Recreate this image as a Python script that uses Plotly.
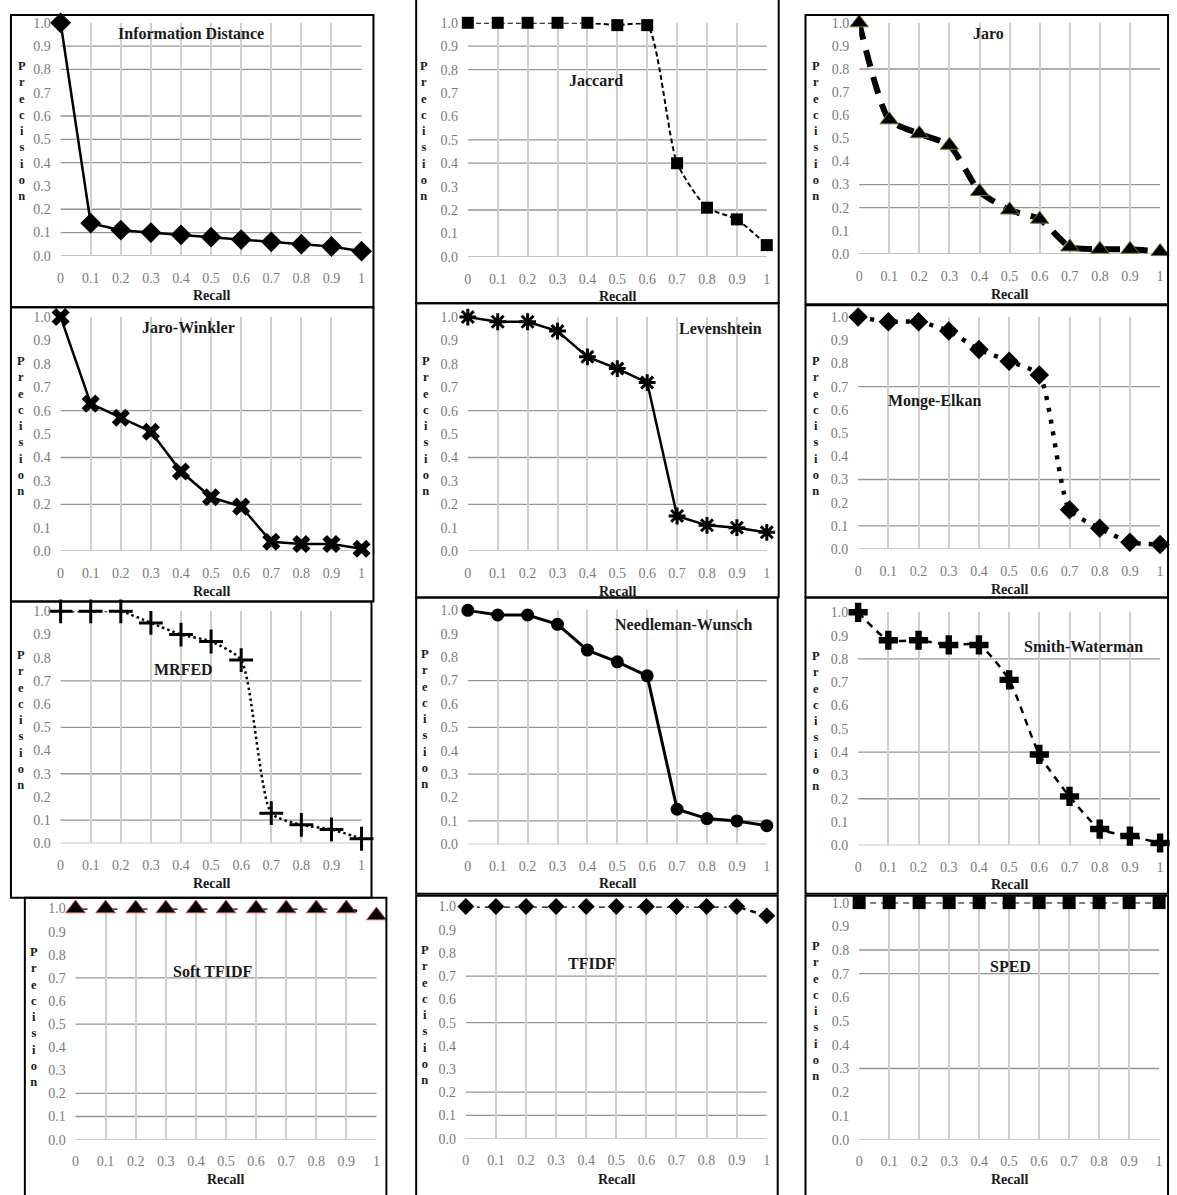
import plotly.graph_objects as go

W, H = 1177, 1195

# Recall levels shared by every panel
recall = [0, 0.1, 0.2, 0.3, 0.4, 0.5, 0.6, 0.7, 0.8, 0.9, 1.0]
x_tick_labels = ["0", "0.1", "0.2", "0.3", "0.4", "0.5", "0.6", "0.7", "0.8", "0.9", "1"]
y_tick_vals = [0.0, 0.1, 0.2, 0.3, 0.4, 0.5, 0.6, 0.7, 0.8, 0.9, 1.0]
y_tick_labels = ["0.0", "0.1", "0.2", "0.3", "0.4", "0.5", "0.6", "0.7", "0.8", "0.9", "1.0"]

# Interpolated precision per similarity measure
information_distance = [1.0, 0.14, 0.11, 0.10, 0.09, 0.08, 0.07, 0.06, 0.05, 0.04, 0.02]
jaccard = [1.0, 1.0, 1.0, 1.0, 1.0, 0.99, 0.99, 0.40, 0.21, 0.16, 0.05]
jaro = [1.0, 0.58, 0.52, 0.47, 0.27, 0.19, 0.15, 0.03, 0.02, 0.02, 0.01]
jaro_winkler = [1.0, 0.63, 0.57, 0.51, 0.34, 0.23, 0.19, 0.04, 0.03, 0.03, 0.01]
levenshtein = [1.0, 0.98, 0.98, 0.94, 0.83, 0.78, 0.72, 0.15, 0.11, 0.10, 0.08]
monge_elkan = [1.0, 0.98, 0.98, 0.94, 0.86, 0.81, 0.75, 0.17, 0.09, 0.03, 0.02]
mrfed = [1.0, 1.0, 1.0, 0.95, 0.90, 0.87, 0.79, 0.13, 0.08, 0.06, 0.02]
needleman_wunsch = [1.0, 0.98, 0.98, 0.94, 0.83, 0.78, 0.72, 0.15, 0.11, 0.10, 0.08]
smith_waterman = [1.0, 0.88, 0.88, 0.86, 0.86, 0.71, 0.39, 0.21, 0.07, 0.04, 0.01]
soft_tfidf = [1.0, 1.0, 1.0, 1.0, 1.0, 1.0, 1.0, 1.0, 1.0, 1.0, 0.97]
tfidf = [1.0, 1.0, 1.0, 1.0, 1.0, 1.0, 1.0, 1.0, 1.0, 1.0, 0.96]
sped = [1.0, 1.0, 1.0, 1.0, 1.0, 1.0, 1.0, 1.0, 1.0, 1.0, 1.0]

titles = ["Information Distance", "Jaccard", "Jaro", "Jaro-Winkler", "Levenshtein",
          "Monge-Elkan", "MRFED", "Needleman-Wunsch", "Smith-Waterman",
          "Soft TFIDF", "TFIDF", "SPED"]
series = [information_distance, jaccard, jaro, jaro_winkler, levenshtein, monge_elkan,
          mrfed, needleman_wunsch, smith_waterman, soft_tfidf, tfidf, sped]

# Panel geometry in pixels: plot box (x0, x1, ytop, ybottom), frame box, title centre,
# "Recall" baseline y, x of the vertical "Precision" letters
panels = [
    dict(plot=(57, 360, 16, 252), frame=(7, 372, 8, 304), title=(188, 27), recall_y=292, ylab_x=18),
    dict(plot=(467, 768, 16, 253), frame=(415, 780, -8, 300), title=(596, 74), recall_y=293, ylab_x=423),
    dict(plot=(861, 1164, 16, 250), frame=(807, 1172, 8, 301), title=(991, 27), recall_y=291, ylab_x=818),
    dict(plot=(57, 360, 314, 551), frame=(7, 372, 304, 602), title=(186, 325), recall_y=592, ylab_x=17),
    dict(plot=(467, 768, 314, 551), frame=(415, 780, 300, 598), title=(721, 326), recall_y=592, ylab_x=425),
    dict(plot=(860, 1164, 314, 549), frame=(807, 1172, 302, 598), title=(937, 399), recall_y=590, ylab_x=818),
    dict(plot=(57, 360, 612, 847), frame=(7, 370, 602, 902), title=(181, 671), recall_y=888, ylab_x=17),
    dict(plot=(467, 768, 611, 848), frame=(415, 779, 598, 898), title=(685, 625), recall_y=888, ylab_x=424),
    dict(plot=(860, 1164, 613, 849), frame=(807, 1172, 598, 898), title=(1087, 648), recall_y=889, ylab_x=818),
    dict(plot=(72, 375, 913, 1147), frame=(21, 385, 902, 1220), title=(210, 977), recall_y=1187, ylab_x=30),
    dict(plot=(465, 768, 911, 1146), frame=(415, 779, 900, 1220), title=(592, 969), recall_y=1187, ylab_x=424),
    dict(plot=(861, 1163, 907, 1147), frame=(807, 1172, 900, 1220), title=(1013, 972), recall_y=1187, ylab_x=818),
]

# Horizontal gridlines drawn in each panel
hgrids = [
    [0.9, 0.8, 0.6, 0.5, 0.4, 0.2, 0.1],
    [0.9, 0.8, 0.5, 0.4, 0.2],
    [0.8, 0.3, 0.2],
    [0.6, 0.4, 0.2],
    [0.6, 0.4, 0.2],
    [0.7, 0.3, 0.1],
    [0.7, 0.5, 0.3, 0.1],
    [0.7, 0.5, 0.3, 0.1],
    [0.8, 0.4, 0.2],
    [0.7, 0.5, 0.2, 0.1],
    [0.7, 0.5, 0.2, 0.1],
    [0.8, 0.7, 0.3],
]

styles = [
    dict(line=dict(color="black", width=2.5), shape="linear",
         marker=dict(symbol="diamond", size=16, color="black")),
    dict(line=dict(color="black", width=2, dash="5px,3px"), shape="spline",
         marker=dict(symbol="square", size=12, color="black")),
    dict(line=dict(color="black", width=6, dash="17px,11px"), shape="spline",
         marker=dict(symbol="triangle-up", size=16, color="black",
                     line=dict(color="#6b7a2a", width=1))),
    dict(line=dict(color="black", width=2.5), shape="linear",
         marker=dict(symbol="x", size=16, color="black")),
    dict(line=dict(color="black", width=2.5), shape="linear",
         marker=dict(symbol="asterisk-open", size=14, color="black",
                     line=dict(color="black", width=3))),
    dict(line=dict(color="black", width=4.5, dash="4px,8px"), shape="spline",
         marker=dict(symbol="diamond", size=15, color="black")),
    dict(line=dict(color="black", width=2.5, dash="2.5px,3px"), shape="spline",
         marker=dict(symbol="cross-thin-open", size=17, color="black",
                     line=dict(color="black", width=3))),
    dict(line=dict(color="black", width=3), shape="linear",
         marker=dict(symbol="circle", size=13, color="black")),
    dict(line=dict(color="black", width=2.5, dash="7px,6px"), shape="spline",
         marker=dict(symbol="cross", size=16, color="black")),
    dict(line=dict(color="black", width=2.5, dash="12px,18px"), shape="linear",
         marker=dict(symbol="triangle-up", size=17, color="black",
                     line=dict(color="#c0504d", width=1))),
    dict(line=dict(color="black", width=2.5, dash="6px,5px,3px,5px"), shape="linear",
         marker=dict(symbol="diamond", size=13, color="black")),
    dict(line=dict(color="black", width=2, dash="6px,5px"), shape="linear",
         marker=dict(symbol="square", size=13, color="black")),
]

SERIF = "Liberation Serif"


def px(x):
    return x / W


def py(y):
    return 1 - y / H


fig = go.Figure()
shapes = []
annotations = []
layout_axes = {}

for i, (name, vals, p, st, grid) in enumerate(zip(titles, series, panels, styles, hgrids)):
    n = i + 1
    xa = "x" if n == 1 else f"x{n}"
    ya = "y" if n == 1 else f"y{n}"
    xkey = "xaxis" if n == 1 else f"xaxis{n}"
    ykey = "yaxis" if n == 1 else f"yaxis{n}"
    x0, x1, yt, yb = p["plot"]

    fig.add_trace(go.Scatter(
        x=recall, y=vals, mode="lines+markers", xaxis=xa, yaxis=ya,
        line=dict(**st["line"], shape=st["shape"], smoothing=0.6),
        marker=st["marker"], cliponaxis=False, showlegend=False, name=name,
    ))

    layout_axes[xkey] = dict(
        domain=[px(x0), px(x1)], anchor=ya, range=[0, 1],
        tickvals=recall, ticktext=x_tick_labels,
        showgrid=True, gridcolor="#cfcfcf", gridwidth=1.5,
        zeroline=False, showline=False,
        ticks="outside", ticklen=9, tickcolor="rgba(0,0,0,0)",
        tickfont=dict(family=SERIF, size=14, color="#7a7a7a"),
        fixedrange=True,
    )
    layout_axes[ykey] = dict(
        domain=[py(yb), py(yt)], anchor=xa, range=[0, 1],
        tickvals=y_tick_vals, ticktext=y_tick_labels,
        showgrid=False, zeroline=False, showline=False,
        ticks="outside", ticklen=6, tickcolor="rgba(0,0,0,0)",
        tickfont=dict(family=SERIF, size=14, color="#7a7a7a"),
        fixedrange=True,
    )

    # horizontal gridlines and the zero baseline
    for g in grid + [0.0]:
        shapes.append(dict(type="line", xref=f"{xa} domain", yref=ya,
                           x0=0, x1=1, y0=g, y1=g, layer="below",
                           line=dict(color="#959595", width=1.3)))

    # panel frame
    fx0, fx1, fy0, fy1 = p["frame"]
    shapes.append(dict(type="rect", xref="paper", yref="paper",
                       x0=px(fx0), x1=px(fx1), y0=py(fy1), y1=py(fy0),
                       line=dict(color="black", width=2), fillcolor="rgba(0,0,0,0)",
                       layer="above"))

    # chart title inside the plot
    tx, ty = p["title"]
    annotations.append(dict(text=name, xref="paper", yref="paper", x=px(tx), y=py(ty),
                            xanchor="center", yanchor="middle", showarrow=False,
                            font=dict(family=SERIF, size=16, color="#1a1a1a", weight="bold")))

    # x-axis title
    annotations.append(dict(text="Recall", xref="paper", yref="paper",
                            x=px((x0 + x1) / 2), y=py(p["recall_y"]),
                            xanchor="center", yanchor="middle", showarrow=False,
                            font=dict(family=SERIF, size=14, color="#1a1a1a", weight="bold")))

    # y-axis title written as stacked letters
    annotations.append(dict(text="<br>".join("Precision"), xref="paper", yref="paper",
                            x=px(p["ylab_x"]), y=py(yt + 110),
                            xanchor="center", yanchor="middle", showarrow=False,
                            font=dict(family=SERIF, size=12.5, color="#1a1a1a", weight="bold")))

fig.update_layout(
    width=W, height=H,
    margin=dict(l=0, r=0, t=0, b=0),
    paper_bgcolor="white", plot_bgcolor="white",
    shapes=shapes, annotations=annotations,
    **layout_axes,
)

fig.write_html("out.html", config=dict(displayModeBar=False))
